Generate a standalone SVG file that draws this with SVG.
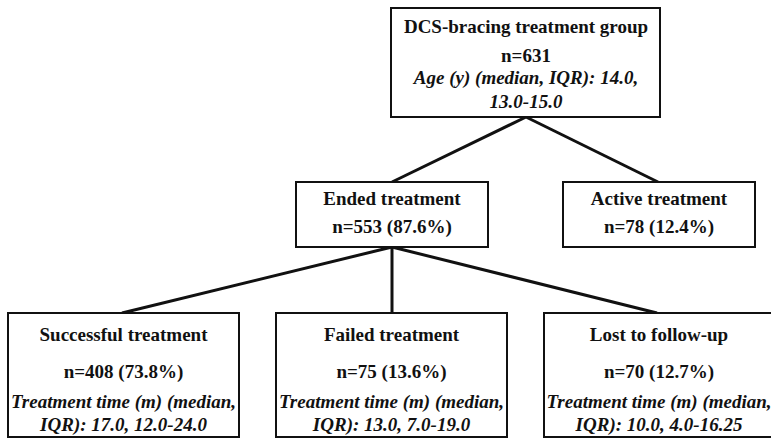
<svg xmlns="http://www.w3.org/2000/svg" width="771" height="441" viewBox="0 0 771 441">
<style>
.box{fill:#fff;stroke:#111;stroke-width:2}
.t{font-family:"Liberation Serif","Times New Roman",serif;font-size:19px;font-weight:bold;fill:#111;text-anchor:middle}
.i{font-style:italic}
.c{stroke:#111;stroke-width:3;fill:none}
</style>
<rect width="771" height="441" fill="#fff"/>
<g id="connectors">
<line class="c" x1="526" y1="117" x2="392" y2="182"/>
<line class="c" x1="526" y1="117" x2="658" y2="182"/>
<line class="c" x1="392" y1="247" x2="122" y2="313"/>
<line class="c" x1="392" y1="247" x2="392" y2="313"/>
<line class="c" x1="392" y1="247" x2="657" y2="313"/>
</g>
<g id="root">
<rect class="box" x="391" y="8" width="269" height="109"/>
<text class="t" x="526" y="33">DCS-bracing treatment group</text>
<text class="t" x="526" y="62">n=631</text>
<text class="t i" x="526" y="84">Age (y) (median, IQR): 14.0,</text>
<text class="t i" x="526" y="108">13.0-15.0</text>
</g>
<g id="ended">
<rect class="box" x="296" y="182" width="192" height="65"/>
<text class="t" x="392" y="205">Ended treatment</text>
<text class="t" x="392" y="233">n=553 (87.6%)</text>
</g>
<g id="active">
<rect class="box" x="563" y="182" width="192" height="65"/>
<text class="t" x="659" y="205">Active treatment</text>
<text class="t" x="659" y="233">n=78 (12.4%)</text>
</g>
<g id="successful">
<rect class="box" x="8" y="313" width="231" height="124"/>
<text class="t" x="123.5" y="341">Successful treatment</text>
<text class="t" x="123.5" y="378">n=408 (73.8%)</text>
<text class="t i" x="123.5" y="408">Treatment time (m) (median,</text>
<text class="t i" x="123.5" y="431">IQR): 17.0, 12.0-24.0</text>
</g>
<g id="failed">
<rect class="box" x="276" y="313" width="231" height="124"/>
<text class="t" x="391.5" y="341">Failed treatment</text>
<text class="t" x="391.5" y="378">n=75 (13.6%)</text>
<text class="t i" x="391.5" y="408">Treatment time (m) (median,</text>
<text class="t i" x="391.5" y="431">IQR): 13.0, 7.0-19.0</text>
</g>
<g id="lost">
<rect class="box" x="544" y="313" width="231" height="124"/>
<text class="t" x="659" y="341">Lost to follow-up</text>
<text class="t" x="659" y="378">n=70 (12.7%)</text>
<text class="t i" x="659" y="408">Treatment time (m) (median,</text>
<text class="t i" x="659" y="431">IQR): 10.0, 4.0-16.25</text>
</g>
</svg>
